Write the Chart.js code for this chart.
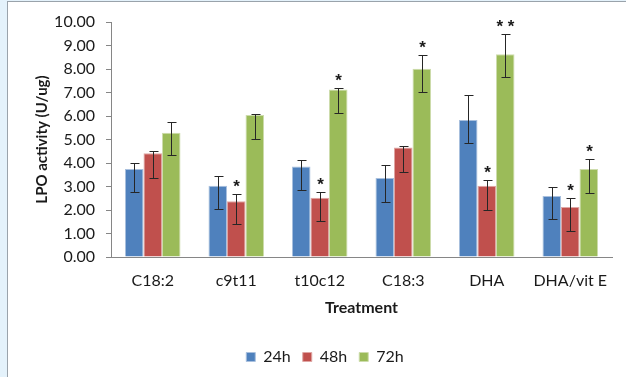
<!DOCTYPE html>
<html>
<head>
<meta charset="utf-8">
<script src="https://cdn.jsdelivr.net/npm/chart.js@4"></script>
<style>
  html, body { margin: 0; padding: 0; }
  body { width: 626px; height: 377px; background: #e4f2fb; position: relative; overflow: hidden; }
  #frame { position: absolute; left: 7px; top: 1px; width: 640px; height: 400px; background: #fff; border: 1px solid #9aa3ab; }
  #lpoChart { position: absolute; left: 0; top: 0; }
</style>
</head>
<body>
<div id="frame"></div>
<canvas id="lpoChart" width="626" height="377"></canvas>
<script>
// -----------------------------
// Data
// -----------------------------
const treatments = ["C18:2", "c9t11", "t10c12", "C18:3", "DHA", "DHA/vit E"];
const seriesNames = ["24h", "48h", "72h"];

const mean24 = [3.75, 3.03, 3.85, 3.36, 5.83, 2.60];
const mean48 = [4.42, 2.37, 2.52, 4.66, 3.03, 2.13];
const mean72 = [5.29, 6.04, 7.13, 8.01, 8.63, 3.74];

// error bar ends (top / bottom)
const hi24 = [4.02, 3.46, 4.13, 3.91, 6.89, 2.98];
const lo24 = [2.75, 2.06, 2.85, 2.34, 4.84, 1.63];
const hi48 = [4.53, 2.69, 2.77, 4.72, 3.27, 2.52];
const lo48 = [3.37, 1.39, 1.55, 3.63, 2.01, 1.12];
const hi72 = [5.73, 6.07, 7.19, 8.59, 9.48, 4.16];
const lo72 = [4.32, 5.03, 6.12, 7.01, 7.64, 2.74];

// significance marks
const sig24 = ["", "", "", "", "", ""];
const sig48 = ["", "*", "*", "", "*", "*"];
const sig72 = ["", "", "*", "*", "* *", "*"];

const yTicks = [0, 1, 2, 3, 4, 5, 6, 7, 8, 9, 10];

const errHigh = [hi24, hi48, hi72];
const errLow = [lo24, lo48, lo72];
const sigMarks = [sig24, sig48, sig72];

// -----------------------------
// Plugin: error bars + stars
// -----------------------------
const errorBars = {
  id: "errorBars",
  afterDatasetsDraw(chart) {
    const ctx = chart.ctx;
    const yScale = chart.scales.y;
    ctx.save();
    ctx.strokeStyle = "#262626";
    ctx.lineWidth = 1;
    chart.data.datasets.forEach((ds, i) => {
      const meta = chart.getDatasetMeta(i);
      meta.data.forEach((bar, j) => {
        const x = Math.round(bar.x) + 0.5;
        const top = Math.round(yScale.getPixelForValue(errHigh[i][j])) + 0.5;
        const bot = Math.round(yScale.getPixelForValue(errLow[i][j])) + 0.5;
        ctx.beginPath();
        ctx.moveTo(x, top); ctx.lineTo(x, bot);
        ctx.moveTo(x - 4, top); ctx.lineTo(x + 5, top);
        ctx.moveTo(x - 4, bot); ctx.lineTo(x + 5, bot);
        ctx.stroke();

        const mark = sigMarks[i][j];
        if (mark) {
          ctx.fillStyle = "#1a1a1a";
          ctx.font = "bold 17px 'Liberation Sans', sans-serif";
          ctx.textAlign = "center";
          ctx.textBaseline = "middle";
          ctx.fillText(mark, x, top - 7);
        }
      });
    });
    ctx.restore();
  }
};

// nudge the legend a little right, like the original
const legendShift = {
  id: "legendShift",
  afterLayout(chart) {
    chart.legend.left += 8;
    chart.legend.right += 8;
  }
};

Chart.defaults.font.family = "Lato, sans-serif";
Chart.defaults.color = "#1a1a1a";

new Chart(document.getElementById("lpoChart"), {
  type: "bar",
  data: {
    labels: treatments,
    datasets: [
      { label: seriesNames[0], data: mean24, backgroundColor: "#4f81bd", borderColor: "#a9c0de", borderWidth: 1 },
      { label: seriesNames[1], data: mean48, backgroundColor: "#c0504d", borderColor: "#dfa6a4", borderWidth: 1 },
      { label: seriesNames[2], data: mean72, backgroundColor: "#9bbb59", borderColor: "#cddcac", borderWidth: 1 }
    ]
  },
  options: {
    responsive: false,
    animation: false,
    layout: { padding: { top: 22, right: 14, bottom: 2, left: 22 } },
    datasets: { bar: { categoryPercentage: 0.665, barPercentage: 1.0 } },
    plugins: {
      legend: {
        position: "bottom",
        labels: { boxWidth: 9, boxHeight: 9, padding: 12, font: { size: 16 } }
      },
      tooltip: { enabled: false }
    },
    scales: {
      x: {
        grid: { display: false, drawTicks: false },
        border: { display: true, color: "#868686" },
        ticks: { padding: 14, font: { size: 16 } },
        title: {
          display: true, text: "Treatment",
          font: { size: 16, weight: "bold" },
          padding: { top: 0, bottom: 20 }
        },
        afterFit(scale) { scale.height = 80; }
      },
      y: {
        min: 0, max: 10,
        afterBuildTicks(scale) { scale.ticks = yTicks.map(v => ({ value: v })); },
        grid: { drawOnChartArea: false, drawTicks: true, tickLength: 5, color: "#868686" },
        border: { display: true, color: "#868686" },
        ticks: { padding: 11, font: { size: 16 }, callback: v => Number(v).toFixed(2) },
        title: {
          display: true, text: "LPO activity (U/ug)",
          font: { size: 15, weight: "bold" },
          padding: { top: 11, bottom: 0 }
        },
        afterFit(scale) { scale.width = 89; }
      }
    }
  },
  plugins: [errorBars, legendShift]
});
</script>
</body>
</html>
